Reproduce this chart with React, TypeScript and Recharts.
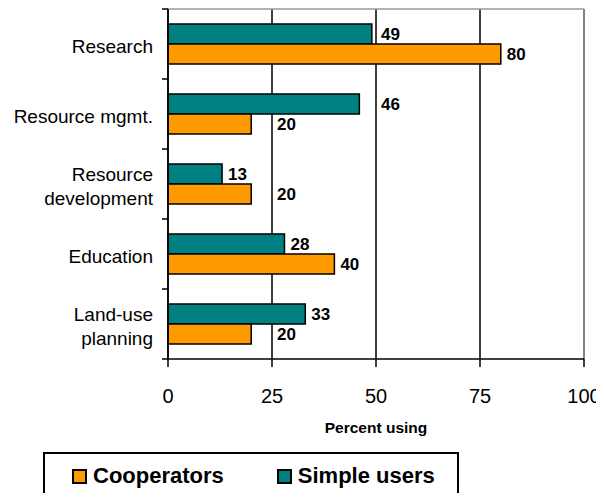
import React from "react";
import {
  BarChart,
  Bar,
  XAxis,
  YAxis,
  CartesianGrid,
  Legend,
} from "recharts";

// ---- data ----
const categories = [
  "Research",
  "Resource mgmt.",
  "Resource\ndevelopment",
  "Education",
  "Land-use\nplanning",
];
const simpleUsers = [49, 46, 13, 28, 33];
const cooperators = [80, 20, 20, 40, 20];
const xTicks = [0, 25, 50, 75, 100];
const legendOrder = ["Cooperators", "Simple users"];

const COLORS: Record<string, string> = {
  Cooperators: "#FF9900",
  "Simple users": "#008080",
};

const FONT = '"Liberation Sans", Arial, Helvetica, sans-serif';

const data = categories.map((c, i) => ({
  category: c,
  simple: simpleUsers[i],
  coop: cooperators[i],
}));

const CategoryTick = (props: any) => {
  const { x, y, payload, index, visibleTicksCount } = props;
  const lines = String(payload.value).split("\n");
  const lh = 24;
  const startDy = -((lines.length - 1) * lh) / 2 + 9;
  const half = payload.offset ?? 0;
  const tx1 = x + 9;
  const tx2 = x + 15;
  return (
    <g>
      <line x1={tx1} x2={tx2} y1={y - half} y2={y - half} stroke="#000" strokeWidth={1.5} />
      {index === visibleTicksCount - 1 && (
        <line x1={tx1} x2={tx2} y1={y + half} y2={y + half} stroke="#000" strokeWidth={1.5} />
      )}
      <text
        x={x}
        y={y}
        textAnchor="end"
        fill="#000"
        fontFamily={FONT}
        fontSize={19}
      >
        {lines.map((ln, i) => (
          <tspan key={i} x={x} dy={i === 0 ? startDy : lh}>
            {ln}
          </tspan>
        ))}
      </text>
    </g>
  );
};

const ValueTick = (props: any) => {
  const { x, y, payload } = props;
  return (
    <text
      x={x}
      y={y}
      dy={15}
      textAnchor="middle"
      fill="#000"
      fontFamily={FONT}
      fontSize={20}
    >
      {payload.value}
    </text>
  );
};

const makeLabel = (props: any) => {
  const { x, y, width, height, value } = props;
  if (value == null) return null;
  const fs = 17;
  const end = x + width;
  const pxPerUnit = width / value;
  const textW = String(value).length * 0.556 * fs;
  let lx = end + 6;
  for (const k of [25, 50, 75]) {
    const gx = x + k * pxPerUnit;
    if (gx >= lx - 3 && gx <= lx + textW) lx = gx + 5;
  }
  return (
    <text
      x={lx}
      y={y + height / 2 + 6}
      fill="#000"
      fontFamily={FONT}
      fontSize={fs}
      fontWeight="bold"
      textAnchor="start"
    >
      {value}
    </text>
  );
};

const LegendBox = () => (
  <div
    style={{
      boxSizing: "border-box",
      width: 416,
      height: 62,
      border: "2px solid #000",
      background: "#fff",
      display: "flex",
      alignItems: "flex-start",
      paddingLeft: 27,
      paddingTop: 11,
      fontFamily: FONT,
      fontSize: 22,
      fontWeight: "bold",
      color: "#000",
    }}
  >
    {legendOrder.map((name, i) => (
      <div
        key={name}
        style={{
          display: "flex",
          alignItems: "center",
          marginLeft: i === 0 ? 0 : 53,
        }}
      >
        <span
          style={{
            display: "inline-block",
            boxSizing: "border-box",
            width: 15,
            height: 15,
            background: COLORS[name],
            border: "2px solid #000",
            marginRight: 6,
          }}
        />
        <span style={{ lineHeight: "22px" }}>{name}</span>
      </div>
    ))}
  </div>
);

export default function App() {
  return (
    <div
      style={{
        fontFamily: FONT,
        width: 596,
        height: 493,
        marginBottom: -8,
        overflow: "hidden",
      }}
    >
      <BarChart
        width={596}
        height={493}
        data={data}
        layout="vertical"
        margin={{ top: 1, right: 20, bottom: 62, left: 0 }}
        barGap={0}
        barSize={20}
        style={{ overflow: "visible" }}
      >
        <CartesianGrid
          vertical={true}
          horizontal={false}
          stroke="#000"
          strokeWidth={1.5}
        />
        <CartesianGrid
          vertical={true}
          horizontal={true}
          stroke="#999"
          strokeWidth={1.5}
          verticalCoordinatesGenerator={({ offset }: any) => [
            offset.left + offset.width,
          ]}
          horizontalCoordinatesGenerator={({ offset }: any) => [offset.top]}
        />
        <XAxis
          type="number"
          domain={[0, 100]}
          ticks={xTicks}
          interval={0}
          height={80}
          tickSize={8}
          tickMargin={21}
          axisLine={{ stroke: "#000", strokeWidth: 1.5 }}
          tickLine={{ stroke: "#000", strokeWidth: 1.5 }}
          tick={<ValueTick />}
          label={{
            value: "Percent using",
            position: "insideBottom",
            offset: 6,
            fill: "#000",
            fontSize: 15.5,
            fontWeight: "bold",
            fontFamily: FONT,
          }}
        />
        <YAxis
          type="category"
          dataKey="category"
          width={160}
          tickSize={0}
          tickMargin={15}
          interval={0}
          axisLine={{ stroke: "#000", strokeWidth: 1.5 }}
          tickLine={false}
          tick={<CategoryTick />}
        />
        <Legend
          layout="horizontal"
          verticalAlign="middle"
          align="center"
          wrapperStyle={{ top: 444, left: 35, width: 416 }}
          content={() => <LegendBox />}
        />
        <Bar
          dataKey="simple"
          name="Simple users"
          fill={COLORS["Simple users"]}
          stroke="#000"
          strokeWidth={1.5}
          isAnimationActive={false}
          label={makeLabel}
        />
        <Bar
          dataKey="coop"
          name="Cooperators"
          fill={COLORS["Cooperators"]}
          stroke="#000"
          strokeWidth={1.5}
          isAnimationActive={false}
          label={makeLabel}
        />
      </BarChart>
    </div>
  );
}
